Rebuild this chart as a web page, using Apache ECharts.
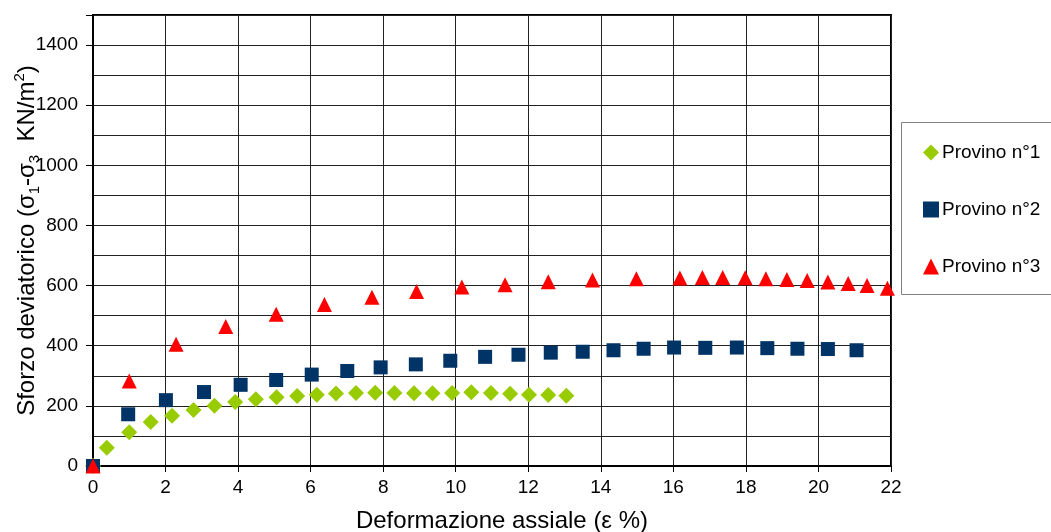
<!DOCTYPE html>
<html>
<head>
<meta charset="utf-8">
<script src="https://cdn.jsdelivr.net/npm/echarts@6/dist/echarts.min.js"></script>
<style>
html,body{margin:0;padding:0;background:#fff;}
#c{width:1051px;height:532px;}
</style>
</head>
<body>
<div id="c"></div>
<script>
const seriesNames = ['Provino n°1', 'Provino n°2', 'Provino n°3'];

const s1x = [0, 0.38, 1.0, 1.59, 2.18, 2.77, 3.35, 3.92, 4.49, 5.06, 5.63, 6.17, 6.70, 7.25, 7.78, 8.31, 8.85, 9.36, 9.90, 10.43, 10.97, 11.50, 12.02, 12.55, 13.05];
const s1y = [0, 61, 112, 146, 167, 186, 200, 213, 222, 229, 233, 237, 241, 243, 244, 243, 242, 242, 243, 245, 243, 240, 237, 236, 234];

const s2x = [0, 0.97, 2.01, 3.06, 4.07, 5.05, 6.03, 7.01, 7.93, 8.90, 9.85, 10.81, 11.73, 12.62, 13.50, 14.35, 15.18, 16.02, 16.88, 17.75, 18.59, 19.42, 20.26, 21.05];
const s2y = [0, 172, 219, 246, 270, 286, 304, 316, 328, 338, 350, 363, 370, 377, 380, 385, 390, 394, 393, 394, 392, 390, 389, 385];

const s3x = [0, 1.00, 2.29, 3.66, 5.05, 6.38, 7.69, 8.92, 10.17, 11.36, 12.55, 13.77, 14.98, 16.18, 16.80, 17.36, 17.98, 18.55, 19.13, 19.69, 20.26, 20.82, 21.34, 21.90];
const s3y = [0, 283, 405, 464, 505, 537, 561, 580, 595, 603, 613, 619, 623, 625, 627, 627, 626, 623, 620, 617, 612, 607, 600, 591];

const xTicks = [0, 2, 4, 6, 8, 10, 12, 14, 16, 18, 20, 22];
const yTicks = [0, 200, 400, 600, 800, 1000, 1200, 1400];

function pairs(xs, ys) { return xs.map((x, i) => [x, ys[i]]); }

const font = '"Liberation Sans", Arial, sans-serif';
const chart = echarts.init(document.getElementById('c'));
chart.setOption({
  animation: false,
  backgroundColor: '#fff',
  textStyle: { fontFamily: font },
  grid: { left: 93, right: 160, top: 15, bottom: 66, show: true, borderColor: '#000', borderWidth: 2,
    containLabel: false, outerBoundsMode: 'none' },
  graphic: [{
    type: 'rect', left: 901, top: 122, z: -1,
    shape: { width: 170, height: 172 },
    style: { fill: '#fff', stroke: '#808080', lineWidth: 1 }
  }],
  legend: {
    orient: 'vertical', left: 918, top: 138, itemGap: 38,
    itemWidth: 16, itemHeight: 16,
    textStyle: { fontSize: 19, color: '#000', fontFamily: font, padding: [0, 0, 0, -2] },
    data: seriesNames
  },
  xAxis: {
    type: 'value', min: xTicks[0], max: xTicks[xTicks.length - 1], interval: 2,
    name: 'Deformazione assiale (ε %)', nameLocation: 'middle', nameGap: 43, nameMoveOverlap: false,
    nameTextStyle: { fontSize: 24, color: '#000', fontFamily: font, padding: [0, 0, 0, 20] },
    axisLine: { show: true, onZero: false, lineStyle: { color: '#000', width: 2 } },
    axisTick: { show: true, inside: false, length: 6, lineStyle: { color: '#000' } },
    axisLabel: { fontSize: 19, color: '#000', margin: 12, fontFamily: font },
    splitLine: { show: true, lineStyle: { color: '#222', width: 1 } }
  },
  yAxis: {
    type: 'value', min: 0, max: 1500, interval: 200,
    name: '{n|Sforzo deviatorico (σ}{s|1}{n|-σ}{s|3}{n|  KN/m}{p|2}{n|)}',
    nameLocation: 'middle', nameGap: 51, nameMoveOverlap: false,
    nameTextStyle: {
      color: '#000', fontFamily: font,
      rich: {
        n: { fontSize: 24, color: '#000', fontFamily: font, lineHeight: 30, verticalAlign: 'middle' },
        s: { fontSize: 15, color: '#000', fontFamily: font, lineHeight: 30, verticalAlign: 'bottom' },
        p: { fontSize: 15, color: '#000', fontFamily: font, lineHeight: 30, verticalAlign: 'top' }
      }
    },
    axisLine: { show: true, lineStyle: { color: '#000', width: 2 } },
    axisTick: { show: true, inside: false, length: 7, lineStyle: { color: '#000' } },
    axisLabel: { fontSize: 19, color: '#000', margin: 15, fontFamily: font,
      formatter: v => (yTicks.indexOf(v) >= 0 ? String(v) : '') },
    splitLine: { show: true, lineStyle: { color: '#222', width: 1 } },
    minorTick: { show: false, splitNumber: 2 },
    minorSplitLine: { show: true, lineStyle: { color: '#222', width: 1 } }
  },
  series: [
    { name: seriesNames[0], type: 'scatter', symbol: 'diamond', symbolSize: 16, clip: false,
      itemStyle: { color: '#99CC00', opacity: 1 }, data: pairs(s1x, s1y) },
    { name: seriesNames[1], type: 'scatter', symbol: 'rect', symbolSize: 14, clip: false,
      itemStyle: { color: '#003366', opacity: 1 }, data: pairs(s2x, s2y) },
    { name: seriesNames[2], type: 'scatter', symbol: 'triangle', symbolSize: 15, clip: false,
      itemStyle: { color: '#FF0000', opacity: 1 }, data: pairs(s3x, s3y) }
  ]
});
</script>
</body>
</html>
